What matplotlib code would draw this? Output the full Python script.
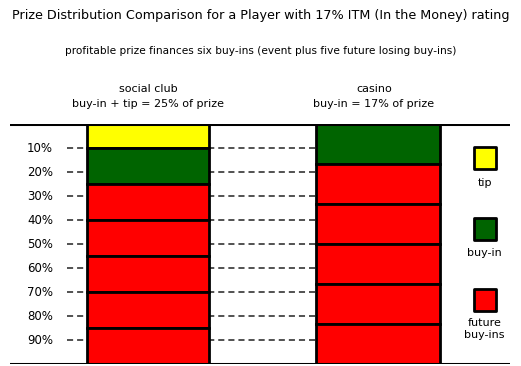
import numpy as np
import matplotlib
matplotlib.use("Agg")
import matplotlib.pyplot as plt

## data: share of the prize (percent), top to bottom
club_labels = ["tip", "buy-in", "future", "future", "future", "future", "future"]
club_shares = [10, 15, 15, 15, 15, 15, 15]
casino_labels = ["buy-in", "future", "future", "future", "future", "future"]
casino_shares = [100 / 6.0] * 6
tick_pcts = [10, 20, 30, 40, 50, 60, 70, 80, 90]
tick_labels = ["%d%%" % t for t in tick_pcts]
legend_names = ["tip", "buy-in", "future\nbuy-ins"]
legend_keys = ["tip", "buy-in", "future"]

colors = {"tip": "#ffff00", "buy-in": "#006400", "future": "#ff0000"}

title = "Prize Distribution Comparison for a Player with 17% ITM (In the Money) rating"
subtitle = "profitable prize finances six buy-ins (event plus five future losing buy-ins)"
headers = [("social club", "buy-in + tip = 25% of prize"), ("casino", "buy-in = 17% of prize")]

W, H = 521, 366
fig = plt.figure(figsize=(W / 100.0, H / 100.0), dpi=100)
# axes spans the chart body: x in pixel-ish units, y in percent (0 at top)
ax = fig.add_axes([10.0 / W, (H - 364.0) / H, 500.0 / W, 240.0 / H])
ax.set_xlim(10, 510)
ax.set_ylim(100, 0)
ax.axis("off")

# top and bottom rules
ax.axhline(0, color="black", lw=2.2, zorder=5)
ax.axhline(100, color="black", lw=2.2, zorder=5)

# dashed guide lines
ax.hlines(tick_pcts, 67, 315, colors="#222222", linestyles=(0, (4, 2.6)), lw=1.1, zorder=1)
for t, lab in zip(tick_pcts, tick_labels):
    ax.text(53, t, lab, ha="right", va="center", fontsize=8.5)

# stacked columns
def column(x0, x1, names, shares):
    bottoms = np.concatenate([[0], np.cumsum(shares)[:-1]])
    ax.bar([(x0 + x1) / 2.0] * len(shares), shares, bottom=bottoms, width=x1 - x0,
           color=[colors[n] for n in names], edgecolor="black", linewidth=2.0, zorder=3)

column(87, 209, club_labels, club_shares)
column(316, 440, casino_labels, casino_shares)

# legend on the right
leg_y = [14, 43.8, 73.2]
txt_y = [24.5, 53.6, 85.5]
for key, name, y, ty in zip(legend_keys, legend_names, leg_y, txt_y):
    ax.scatter([484.5], [y], marker="s", s=235, c=colors[key], edgecolors="black",
               linewidths=2.0, zorder=4)
    ax.text(484.5, ty, name, ha="center", va="center", fontsize=8, linespacing=1.25)

fig.text(0.5, 1 - 15.0 / H, title, ha="center", va="center", fontsize=9.2)
fig.text(0.5, 1 - 51.0 / H, subtitle, ha="center", va="center", fontsize=7.6)
for xc, (h1, h2) in zip([148, 374], headers):
    fig.text(xc / float(W), 1 - 89.0 / H, h1, ha="center", va="center", fontsize=8)
    fig.text(xc / float(W), 1 - 104.0 / H, h2, ha="center", va="center", fontsize=8)

fig.savefig("out.png", dpi=100, facecolor="white")
